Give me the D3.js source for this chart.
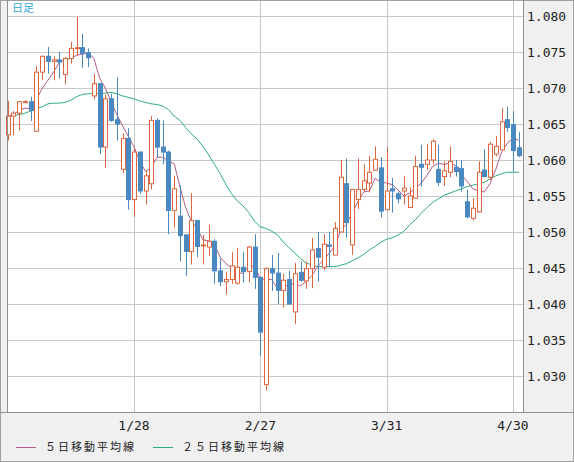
<!DOCTYPE html>
<html>
<head>
<meta charset="utf-8">
<script src="https://cdn.jsdelivr.net/npm/d3@7"></script>
<style>
  body { margin: 0; background: #fff; }
  svg text { font-family: "DejaVu Sans Mono", monospace; }
</style>
</head>
<body>
<svg id="chart" width="574" height="462"></svg>
<script>
// Daily candles: open, high, low, close
const opens  = [1.0635,1.0661,1.0665,1.0681,1.0681,1.0640,1.0722,1.0744,1.0737,1.0739,1.0719,1.0741,1.0755,1.0756,1.0749,1.0689,1.0706,1.0618,1.0685,1.0656,
  1.0587,1.0630,1.0545,1.0611,1.0557,1.0567,1.0655,1.0618,1.0611,1.0530,1.0522,1.0496,1.0473,1.0516,1.0481,1.0479,1.0487,1.0446,1.0431,1.0434,
  1.0429,1.0451,1.0445,1.0479,1.0437,1.0288,1.0449,1.0443,1.0419,1.0434,1.0389,1.0444,1.0432,1.0449,1.0477,1.0451,1.0482,1.0468,1.0500,1.0567,
  1.0482,1.0545,1.0559,1.0568,1.0586,1.0589,1.0531,1.0560,1.0553,1.0557,1.0534,1.0547,1.0594,1.0594,1.0600,1.0587,1.0577,1.0583,1.0590,1.0588,
  1.0542,1.0519,1.0528,1.0586,1.0576,1.0608,1.0614,1.0656,1.0649,1.0617];
const highs  = [1.0682,1.0668,1.0682,1.0683,1.0688,1.0731,1.0745,1.0757,1.0744,1.0750,1.0743,1.0764,1.0799,1.0775,1.0755,1.0720,1.0707,1.0691,1.0692,1.0715,
  1.0637,1.0644,1.0616,1.0612,1.0585,1.0661,1.0658,1.0655,1.0613,1.0578,1.0565,1.0497,1.0554,1.0517,1.0496,1.0510,1.0490,1.0463,1.0445,1.0472,
  1.0478,1.0472,1.0481,1.0497,1.0438,1.0451,1.0468,1.0471,1.0442,1.0446,1.0457,1.0459,1.0459,1.0492,1.0500,1.0497,1.0500,1.0514,1.0600,1.0602,
  1.0560,1.0602,1.0594,1.0606,1.0619,1.0604,1.0618,1.0575,1.0556,1.0578,1.0562,1.0606,1.0621,1.0622,1.0629,1.0621,1.0598,1.0619,1.0600,1.0600,
  1.0559,1.0547,1.0598,1.0615,1.0625,1.0633,1.0672,1.0674,1.0668,1.0639];
const lows   = [1.0627,1.0634,1.0641,1.0680,1.0654,1.0639,1.0711,1.0720,1.0711,1.0713,1.0705,1.0734,1.0745,1.0728,1.0729,1.0684,1.0608,1.0589,1.0653,1.0627,
  1.0582,1.0531,1.0521,1.0553,1.0538,1.0559,1.0604,1.0594,1.0497,1.0506,1.0459,1.0439,1.0455,1.0465,1.0455,1.0467,1.0428,1.0425,1.0413,1.0428,
  1.0427,1.0430,1.0430,1.0421,1.0328,1.0280,1.0418,1.0400,1.0395,1.0399,1.0372,1.0431,1.0421,1.0422,1.0431,1.0447,1.0451,1.0468,1.0500,1.0492,
  1.0468,1.0532,1.0556,1.0555,1.0585,1.0520,1.0531,1.0527,1.0540,1.0538,1.0534,1.0547,1.0563,1.0586,1.0594,1.0564,1.0564,1.0576,1.0577,1.0556,
  1.0519,1.0516,1.0527,1.0576,1.0572,1.0605,1.0614,1.0639,1.0584,1.0604];
const closes = [1.0661,1.0665,1.0681,1.0681,1.0669,1.0722,1.0744,1.0737,1.0739,1.0736,1.0741,1.0755,1.0756,1.0748,1.0742,1.0706,1.0618,1.0685,1.0655,1.0650,
  1.0630,1.0545,1.0611,1.0557,1.0578,1.0655,1.0618,1.0611,1.0530,1.0560,1.0495,1.0473,1.0516,1.0480,1.0482,1.0487,1.0446,1.0431,1.0434,1.0453,
  1.0451,1.0445,1.0479,1.0437,1.0361,1.0449,1.0443,1.0419,1.0433,1.0400,1.0442,1.0433,1.0449,1.0475,1.0465,1.0483,1.0480,1.0505,1.0576,1.0513,
  1.0559,1.0559,1.0571,1.0583,1.0601,1.0529,1.0557,1.0557,1.0546,1.0561,1.0550,1.0591,1.0590,1.0600,1.0626,1.0569,1.0585,1.0598,1.0584,1.0564,
  1.0521,1.0533,1.0583,1.0577,1.0622,1.0619,1.0653,1.0645,1.0613,1.0606];
// 25-day moving average
const ma25 = [1.0661,1.0662,1.0663,1.0665,1.0668,1.0671,1.0674,1.0678,1.0679,1.0679,1.0680,1.0683,1.0688,1.0691,1.0692,1.0692,1.0692,1.0693,1.0694,1.0692,
  1.0689,1.0687,1.0685,1.0682,1.0680,1.0678,1.0677,1.0675,1.0670,1.0661,1.0655,1.0645,1.0636,1.0629,1.0619,1.0607,1.0594,1.0581,1.0566,1.0553,
  1.0543,1.0536,1.0527,1.0515,1.0507,1.0505,1.0501,1.0496,1.0486,1.0478,1.0471,1.0463,1.0457,1.0454,1.0452,1.0452,1.0452,1.0452,1.0454,1.0456,
  1.0460,1.0464,1.0469,1.0475,1.0480,1.0486,1.0490,1.0492,1.0496,1.0501,1.0510,1.0517,1.0526,1.0534,1.0541,1.0546,1.0551,1.0554,1.0557,1.0560,
  1.0563,1.0565,1.0567,1.0569,1.0574,1.0578,1.0581,1.0583,1.0583,1.0583];
const xTickIdx = [22, 44, 66, 88];
const xTickLabels = ['1/28', '2/27', '3/31', '4/30'];
const yTicks = [1.030, 1.035, 1.040, 1.045, 1.050, 1.055, 1.060, 1.065, 1.070, 1.075, 1.080];

const data = closes.map((c, i) => ({ i, o: opens[i], h: highs[i], l: lows[i], c }));
const ma5 = closes.map((c, i) => d3.mean(closes.slice(Math.max(0, i - 4), i + 1)));

const W = 574, H = 462;
const plot = { left: 7, right: 523, top: 1, bottom: 412 };

const svg = d3.select('#chart');
svg.append('rect').attr('x', 0.5).attr('y', 0.5).attr('width', W - 1).attr('height', H - 1)
  .attr('fill', '#f0f0f0').attr('stroke', '#a0a0a0');
svg.append('rect').attr('x', plot.left).attr('y', plot.top)
  .attr('width', plot.right - plot.left).attr('height', plot.bottom - plot.top).attr('fill', '#fff');

const x = d3.scaleLinear().domain([0, 88]).range([7.7, 513]);
const y = d3.scaleLinear().domain([1.030, 1.080]).range([376, 16]);

// Grid
svg.append('g').selectAll('line').data(yTicks).join('line')
  .attr('x1', plot.left).attr('x2', plot.right)
  .attr('y1', d => Math.round(y(d)) + 0.5).attr('y2', d => Math.round(y(d)) + 0.5)
  .attr('stroke', '#c8c8c8');
svg.append('g').selectAll('line').data(xTickIdx).join('line')
  .attr('x1', d => Math.round(x(d)) + 0.5).attr('x2', d => Math.round(x(d)) + 0.5)
  .attr('y1', plot.top).attr('y2', plot.bottom)
  .attr('stroke', '#c8c8c8');

// Moving averages
const line = d3.line().x((d, i) => x(i)).y(d => y(d));
svg.append('path').datum(ma25).attr('d', line).attr('fill', 'none').attr('stroke', '#2aae78').attr('stroke-width', 1);
svg.append('path').datum(ma5).attr('d', line).attr('fill', 'none').attr('stroke', '#b45a8c').attr('stroke-width', 1);

// Candles
const up = '#dd6640', down = '#4a88c0';
const candles = svg.append('g').selectAll('g').data(data).join('g');
candles.append('line')
  .attr('x1', d => Math.round(x(d.i)) + 0.5).attr('x2', d => Math.round(x(d.i)) + 0.5)
  .attr('y1', d => y(d.h)).attr('y2', d => y(d.l))
  .attr('stroke', d => d.c >= d.o ? up : down).attr('stroke-width', 1);
candles.append('rect')
  .attr('x', d => Math.round(x(d.i)) - 1.5)
  .attr('y', d => y(Math.max(d.o, d.c)))
  .attr('width', 4)
  .attr('height', d => Math.max(1, Math.abs(y(d.o) - y(d.c))))
  .attr('fill', d => d.c >= d.o ? '#fff' : down)
  .attr('stroke', d => d.c >= d.o ? up : down);

// Frame lines
svg.append('line').attr('x1', plot.left + 0.5).attr('x2', plot.left + 0.5).attr('y1', 0).attr('y2', plot.bottom).attr('stroke', '#909090');
svg.append('line').attr('x1', plot.right + 0.5).attr('x2', plot.right + 0.5).attr('y1', 0).attr('y2', plot.bottom).attr('stroke', '#909090');
svg.append('line').attr('x1', 0).attr('x2', W).attr('y1', plot.bottom + 0.5).attr('y2', plot.bottom + 0.5).attr('stroke', '#909090');

// Y labels
svg.append('g').selectAll('text').data(yTicks).join('text')
  .attr('x', 527).attr('y', d => y(d)).attr('dy', '0.36em')
  .attr('font-size', 13).attr('fill', '#222')
  .text(d => d3.format('.3f')(d));

// X labels
svg.append('g').selectAll('text').data(xTickIdx).join('text')
  .attr('x', d => x(d)).attr('y', 425).attr('dy', '0.36em').attr('text-anchor', 'middle')
  .attr('font-size', 13).attr('fill', '#222')
  .text((d, i) => xTickLabels[i]);

// Title
svg.append('text').attr('x', 12).attr('y', 12).attr('font-size', 11).attr('fill', '#30a8d8')
  .style('font-family', '"Noto Sans CJK JP"').text('日足');

// Legend
const legend = [
  { label: '５日移動平均線', color: '#b45a8c', x: 16 },
  { label: '２５日移動平均線', color: '#2aae78', x: 153 }
];
const lg = svg.append('g').selectAll('g').data(legend).join('g');
lg.append('line').attr('x1', d => d.x).attr('x2', d => d.x + 20)
  .attr('y1', 447.5).attr('y2', 447.5).attr('stroke', d => d.color);
lg.append('text').attr('x', d => d.x + 29).attr('y', 447).attr('dy', '0.36em')
  .attr('font-size', 11).attr('fill', '#222').attr('letter-spacing', 2)
  .style('font-family', '"Noto Sans CJK JP"')
  .text(d => d.label);
</script>
</body>
</html>
